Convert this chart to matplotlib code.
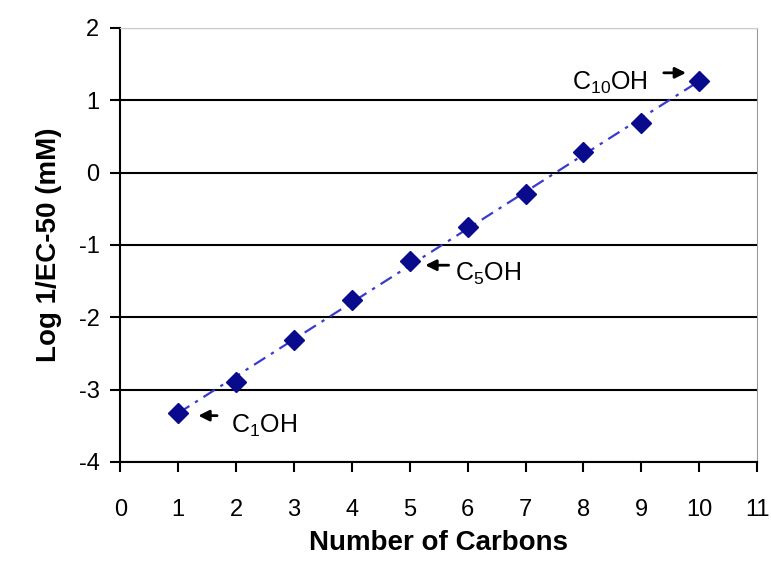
import numpy as np
import matplotlib.pyplot as plt

carbons = [1, 2, 3, 4, 5, 6, 7, 8, 9, 10]
log_ec50 = [-3.32, -2.89, -2.31, -1.76, -1.22, -0.75, -0.29, 0.29, 0.68, 1.27]

plt.rcParams['font.family'] = ['Liberation Sans', 'DejaVu Sans']
plt.rcParams['axes.unicode_minus'] = False
plt.rcParams['mathtext.fontset'] = 'custom'
plt.rcParams['mathtext.rm'] = 'Liberation Sans'

fig = plt.figure(figsize=(7.71, 5.71), dpi=100)
ax = fig.add_axes([0.156, 0.191, 0.826, 0.760])

# trend line
slope, icpt = np.polyfit(carbons, log_ec50, 1)
xs = np.array([carbons[0], carbons[-1]])
ax.plot(xs, slope * xs + icpt, color='#3a3acc', lw=1.6, ls=(0, (6, 3, 1.5, 3)), zorder=3)

ax.plot(carbons, log_ec50, ls='none', marker='D', ms=10.5, color='#0a0a8c', zorder=4)

ax.set_xlim(0, 11)
ax.set_ylim(-4, 2)
ax.set_xticks(range(0, 12))
ax.set_yticks(range(-4, 3))
ax.yaxis.grid(True, color='black', lw=1.5)
ax.set_axisbelow(True)

ax.spines['top'].set_color('#cccccc')
ax.spines['right'].set_color('#999999')
ax.spines['left'].set_linewidth(1.5)
ax.spines['bottom'].set_linewidth(1.5)
ax.tick_params(axis='both', direction='out', length=7, width=1.5, labelsize=17, pad=8)
ax.tick_params(axis='x', pad=20)

ax.set_xlabel('Number of Carbons', fontsize=20, fontweight='bold', labelpad=6)
ax.set_ylabel('Log 1/EC-50 (mM)', fontsize=20, fontweight='bold', labelpad=12)

arrow = dict(arrowstyle='-|>', color='black', lw=2, mutation_scale=16)
ax.annotate('', xy=(1.30, -3.36), xytext=(1.72, -3.36), arrowprops=arrow)
ax.text(1.92, -3.50, 'C$_1$OH', fontsize=18, va='center', ha='left')
ax.annotate('', xy=(5.22, -1.28), xytext=(5.72, -1.28), arrowprops=arrow)
ax.text(5.78, -1.40, 'C$_5$OH', fontsize=18, va='center', ha='left')
ax.annotate('', xy=(9.82, 1.38), xytext=(9.34, 1.38), arrowprops=arrow)
ax.text(7.80, 1.24, 'C$_{10}$OH', fontsize=18, va='center', ha='left')

fig.savefig('out.png', dpi=100)
